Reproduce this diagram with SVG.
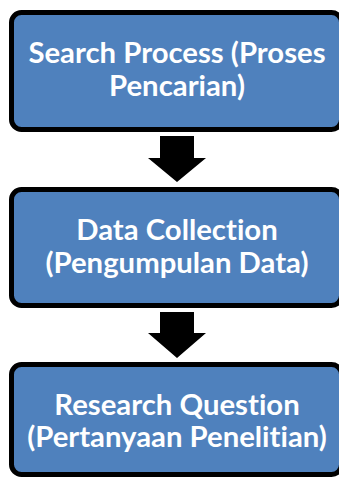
<svg xmlns="http://www.w3.org/2000/svg" width="339" height="477" viewBox="0 0 339 477">
<style>
.box{fill:#4F81BD;stroke:#000;stroke-width:5}
.t{font-family:Lato,"Liberation Sans",sans-serif;font-weight:bold;font-size:29.3px;fill:#fff;text-anchor:middle;font-variant-ligatures:none}
.arr{fill:#000}
</style>
<g id="node1">
<rect class="box" x="11.5" y="12.5" width="330" height="117" rx="10"/>
<text class="t" x="177" y="63">Search Process (Proses</text>
<text class="t" x="177" y="96">Pencarian)</text>
</g>
<g id="node2">
<rect class="box" x="11.5" y="189.5" width="330" height="116" rx="10"/>
<text class="t" x="177" y="240">Data Collection</text>
<text class="t" x="177" y="273">(Pengumpulan Data)</text>
</g>
<g id="node3">
<rect class="box" x="11.5" y="364.5" width="330" height="110" rx="10"/>
<text class="t" x="177" y="415">Research Question</text>
<text class="t" x="177" y="447">(Pertanyaan Penelitian)</text>
</g>
<g id="connectors">
<polygon class="arr" points="160,136 194,136 194,158 206,158 177,182 148,158 160,158"/>
<polygon class="arr" points="160,312 194,312 194,333 206,333 177,358 148,333 160,333"/>
</g>
</svg>
